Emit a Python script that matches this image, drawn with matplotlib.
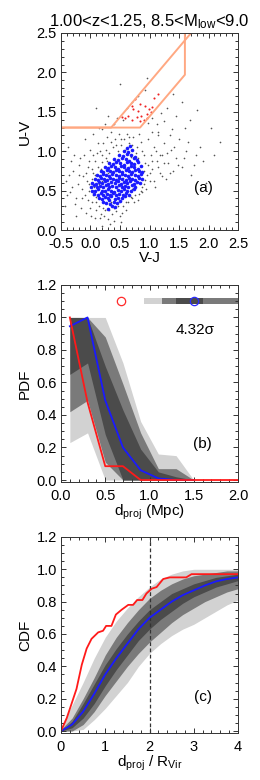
import numpy as np
import matplotlib
matplotlib.use('Agg')
import matplotlib.pyplot as plt
from matplotlib.ticker import MultipleLocator, FormatStrFormatter

plt.rcParams['font.family'] = ['Liberation Sans', 'DejaVu Sans']
plt.rcParams['mathtext.fontset'] = 'custom'
plt.rcParams['mathtext.rm'] = 'Liberation Sans'
plt.rcParams['mathtext.it'] = 'Liberation Sans:italic'
plt.rcParams['axes.unicode_minus'] = False

# ---- panel (a): UVJ diagram ----
gray_pts = [(-0.42,0.62),(-0.35,0.48),(-0.30,0.75),(-0.27,0.33),(-0.22,0.58),(-0.18,0.92),(-0.15,0.41),
            (-0.12,0.68),(-0.08,0.22),(-0.05,0.80),(-0.02,0.50),(0.00,1.02),(0.02,0.35),(0.05,0.72),
            (0.07,0.15),(0.08,0.88),(-0.38,1.05),(-0.25,0.18),(-0.10,1.15),(-0.44,0.30),(-0.20,0.70),
            (-0.06,0.62),(-0.14,0.52),(0.04,0.95),(-0.33,0.88),(-0.01,0.28),(0.10,0.42),(0.12,0.80),
            (0.14,0.30),(0.16,1.00),
            (0.18,0.20),(0.20,0.86),(0.22,1.10),(0.25,0.25),(0.26,0.92),(0.28,1.18),(0.30,0.14),
            (0.32,0.98),(0.34,1.25),(0.36,0.20),(0.38,1.05),(0.40,0.12),(0.42,1.15),(0.44,0.24),
            (0.46,1.00),(0.48,1.22),(0.50,0.18),(0.52,1.08),(0.55,0.30),(0.57,1.15),(0.60,0.26),
            (0.62,1.22),(0.64,0.35),(0.66,1.10),(0.70,0.40),(0.72,1.18),(0.75,0.45),(0.78,1.05),
            (0.80,0.38),(0.83,1.22),(0.85,0.50),(0.88,1.00),(0.90,0.58),(0.92,0.85),(0.95,0.70),
            (0.98,1.15),(1.00,0.62),(1.02,0.95),(1.05,0.78),(1.08,1.05),(1.10,0.55),(1.12,0.88),
            (1.15,1.20),(1.18,0.72),(1.22,0.95),(1.25,1.10),(1.28,0.65),(1.32,0.85),(1.36,1.02),
            (1.40,0.75),(1.45,0.92),(1.50,1.15),(1.55,0.80),(1.62,1.00),(1.70,0.70),(1.78,0.95),
            (1.85,1.05),(2.05,1.30),(2.20,1.12),(1.95,0.60),
            (0.05,1.22),(0.20,1.28),(0.40,1.34),(0.55,1.40),(0.62,1.55),(0.70,1.63),(0.80,1.70),
            (0.92,1.78),(0.98,1.36),(1.05,1.42),(1.12,1.35),(1.20,1.48),(1.25,1.38),(1.30,1.55),
            (1.38,1.28),(1.45,1.45),(1.55,1.62),(1.68,1.40),(1.80,1.52),(0.50,1.85),(0.95,1.93),
            (1.40,1.72),(0.30,1.45),(0.10,1.55),
            (0.15,0.58),(0.30,0.72),(0.45,0.55),(0.60,0.78),(0.25,0.48),(0.55,0.66),(0.70,0.52),
            (0.40,0.90),(0.20,0.62),(0.35,0.36),(0.08,0.70),(0.12,0.52),(0.02,0.65),(0.18,0.78),
            (0.28,0.88),(0.05,0.45),(-0.03,0.58),(0.10,0.36),(0.22,0.28),(0.68,0.93),(0.80,0.92),
            (0.90,0.75),(0.93,0.64),(0.88,0.48),
            (-0.40,0.45),(-0.36,0.70),(-0.31,0.55),(-0.28,0.95),(-0.24,0.40),(-0.19,0.82),(-0.16,0.28),
            (-0.11,0.95),(-0.09,0.45),(-0.07,0.72),(-0.04,0.38),(-0.02,0.88),(0.01,0.18),(0.03,0.78),
            (0.06,0.55),(0.09,0.25),(0.11,0.98),(0.13,1.10),(0.16,0.15),(0.19,0.95),(0.23,0.18),
            (0.27,1.02),(0.31,0.25),(0.35,1.12),(0.39,0.28),(0.43,1.08),(0.47,0.30),(0.51,1.15),
            (0.54,0.22),(0.58,1.02),(0.61,0.36),(0.65,1.18),(0.68,0.42),(0.71,1.08),(0.74,0.36),
            (0.77,0.98),(0.82,0.46),(0.85,1.12),(0.87,0.55),(0.91,0.95),(0.94,0.52),(0.97,0.82),
            (1.01,0.72),(1.04,0.88),(1.07,0.62),(1.11,1.00),(1.14,0.80),(1.17,0.95),(1.21,0.68),
            (1.24,0.85),(1.30,0.98),(1.34,0.72),(1.42,1.05),(1.48,0.82),(1.58,0.92),(1.65,1.12),
            (1.75,0.82),(1.90,0.88),(2.10,0.95),(0.24,1.35),(0.45,1.42),(0.15,1.30),(1.15,1.25),
            (1.35,1.20),(1.60,1.30),(1.05,1.25),(0.33,0.08),(0.52,0.10),(0.20,0.05)]

blue_pts = [(0.29,0.27),(0.36,0.31),(0.41,0.29),(0.33,0.33),
            (0.21,0.36),(0.27,0.34),(0.39,0.36),(0.45,0.34),(0.50,0.37),(0.31,0.38),
            (0.14,0.41),(0.19,0.39),(0.25,0.42),(0.30,0.40),(0.35,0.43),(0.42,0.39),(0.47,0.41),(0.53,0.40),(0.58,0.43),
            (0.06,0.46),(0.12,0.44),(0.17,0.47),(0.22,0.45),(0.28,0.46),(0.33,0.44),(0.38,0.47),(0.44,0.45),
            (0.49,0.46),(0.55,0.44),(0.60,0.47),(0.65,0.45),
            (0.02,0.50),(0.08,0.49),(0.13,0.52),(0.19,0.50),(0.24,0.49),(0.29,0.52),(0.35,0.50),(0.40,0.48),
            (0.46,0.51),(0.51,0.49),(0.56,0.52),(0.62,0.50),(0.68,0.49),(0.73,0.52),
            (0.01,0.55),(0.06,0.57),(0.11,0.54),(0.16,0.56),(0.22,0.55),(0.27,0.57),(0.32,0.54),(0.37,0.56),
            (0.43,0.55),(0.48,0.57),(0.53,0.54),(0.59,0.56),(0.64,0.55),(0.70,0.57),(0.76,0.54),
            (0.03,0.60),(0.09,0.59),(0.14,0.61),(0.19,0.60),(0.25,0.62),(0.30,0.59),(0.35,0.61),(0.41,0.60),
            (0.46,0.62),(0.51,0.59),(0.57,0.61),(0.62,0.60),(0.67,0.62),(0.73,0.59),(0.79,0.61),(0.84,0.60),
            (0.07,0.65),(0.12,0.64),(0.17,0.66),(0.23,0.65),(0.28,0.63),(0.33,0.66),(0.38,0.65),(0.44,0.64),
            (0.49,0.66),(0.54,0.65),(0.60,0.63),(0.65,0.66),(0.71,0.65),(0.76,0.64),(0.82,0.66),(0.87,0.65),
            (0.11,0.70),(0.16,0.69),(0.22,0.71),(0.27,0.70),(0.32,0.68),(0.37,0.71),(0.43,0.70),(0.48,0.69),
            (0.53,0.71),(0.58,0.70),(0.64,0.68),(0.69,0.71),(0.75,0.70),(0.80,0.69),(0.86,0.71),
            (0.17,0.75),(0.22,0.74),(0.28,0.76),(0.33,0.75),(0.38,0.73),(0.44,0.76),(0.49,0.75),(0.54,0.74),
            (0.60,0.76),(0.65,0.75),(0.71,0.73),(0.76,0.76),(0.82,0.75),(0.88,0.74),
            (0.24,0.80),(0.30,0.79),(0.35,0.81),(0.41,0.80),(0.46,0.78),(0.52,0.81),(0.57,0.80),(0.63,0.79),
            (0.68,0.81),(0.74,0.80),(0.80,0.78),(0.86,0.81),
            (0.32,0.85),(0.38,0.84),(0.44,0.86),(0.50,0.85),(0.56,0.83),(0.62,0.86),(0.68,0.85),(0.74,0.84),(0.81,0.86),
            (0.40,0.90),(0.47,0.89),(0.53,0.91),(0.60,0.90),(0.66,0.88),(0.73,0.91),(0.79,0.89),
            (0.48,0.95),(0.55,0.94),(0.62,0.96),(0.69,0.95),(0.75,0.93),
            (0.56,1.00),(0.63,0.99),(0.70,1.01),(0.62,1.04),(0.67,1.06)]

red_pts = [(0.75,1.66),(0.84,1.60),(0.93,1.57),(0.99,1.53),(1.05,1.56),(1.15,1.72),(1.07,1.67),
           (0.58,1.42),(0.64,1.45),(0.78,1.44),(0.86,1.45),(0.95,1.47),(1.02,1.50),(0.70,1.39),
           (0.90,1.39),(0.84,1.38),(0.53,1.44),(0.72,1.53),(0.96,1.42),(0.81,1.51),(0.70,1.58)]

# quiescent selection wedges
wedge_in_x = [-0.5, 0.84, 1.6, 1.6]
wedge_in_y = [1.3, 1.3, 1.97, 2.6]
wedge_out_x = [-0.5, 0.35, 1.75]
wedge_out_y = [1.3, 1.3, 2.54]

# ---- panel (b): PDF ----
pdf_x = [0.1, 0.3, 0.5, 0.7, 0.9, 1.1, 1.3, 1.5, 1.7, 1.9, 2.0]
pdf_red = [1.0, 0.478, 0.085, 0.085, 0.0, 0.0, 0.0, 0.0, 0.0, 0.0, 0.0]
pdf_blue_x = [0.1, 0.3, 0.5, 0.7, 0.9, 1.1, 1.3, 1.5]
pdf_blue = [0.946, 1.0, 0.49, 0.20, 0.06, 0.01, 0.0, 0.0]
pdf_band_x = [0.1, 0.3, 0.5, 0.7, 0.9, 1.1, 1.3, 1.5]
pdf_lo3 = [0.23, 0.29, 0.0, 0.0, 0.0, 0.0, 0.0, 0.0]
pdf_hi3 = [1.0, 1.0, 1.0, 0.72, 0.36, 0.16, 0.15, 0.0]
pdf_lo2 = [0.42, 0.49, 0.11, 0.0, 0.0, 0.0, 0.0, 0.0]
pdf_hi2 = [1.0, 1.0, 0.88, 0.59, 0.29, 0.07, 0.07, 0.0]
pdf_lo1 = [0.65, 0.72, 0.28, 0.0, 0.0, 0.0, 0.0, 0.0]
pdf_hi1 = [1.0, 1.0, 0.70, 0.43, 0.19, 0.05, 0.02, 0.0]
bar_edges = [0.94, 1.14, 1.30, 1.61, 2.05]
sig_red_x = 0.68
sig_blue_x = 1.5
sig_text = '4.32σ'

# ---- panel (c): CDF ----
cdf_red_x = [0, 0.13, 0.24, 0.35, 0.47, 0.58, 0.69, 0.84, 0.95, 1.02, 1.14, 1.24, 1.37, 1.52,
             1.63, 1.72, 1.84, 1.93, 2.05, 2.16, 2.31, 2.46, 2.83, 2.95, 4.0]
cdf_red = [0, 0.08, 0.17, 0.26, 0.41, 0.51, 0.57, 0.61, 0.62, 0.65, 0.65, 0.72, 0.75, 0.78,
           0.78, 0.81, 0.81, 0.85, 0.88, 0.89, 0.94, 0.95, 0.95, 0.97, 0.97]
cdf_x = [0, 0.25, 0.5, 0.75, 1.0, 1.25, 1.5, 1.75, 2.0, 2.25, 2.5, 2.75, 3.0, 3.25, 3.5, 3.75, 4.0]
cdf_blue = [0, 0.04, 0.12, 0.23, 0.35, 0.45, 0.54, 0.63, 0.70, 0.75, 0.80, 0.84, 0.87, 0.90, 0.925, 0.94, 0.95]
cdf_hi3 = [0.03, 0.16, 0.30, 0.45, 0.58, 0.68, 0.76, 0.83, 0.89, 0.94, 0.97, 0.99, 1.0, 1.0, 1.0, 1.0, 1.0]
cdf_lo3 = [0, 0, 0.01, 0.07, 0.14, 0.22, 0.30, 0.40, 0.48, 0.54, 0.59, 0.63, 0.66, 0.70, 0.74, 0.78, 0.81]
cdf_hi2 = [0.01, 0.08, 0.20, 0.33, 0.47, 0.58, 0.67, 0.75, 0.82, 0.87, 0.91, 0.94, 0.96, 0.97, 0.98, 0.99, 0.99]
cdf_lo2 = [0, 0, 0.04, 0.12, 0.22, 0.31, 0.40, 0.48, 0.55, 0.61, 0.67, 0.72, 0.76, 0.80, 0.83, 0.86, 0.88]
cdf_hi1 = [0, 0.06, 0.17, 0.29, 0.41, 0.51, 0.60, 0.68, 0.75, 0.80, 0.85, 0.88, 0.91, 0.93, 0.95, 0.96, 0.97]
cdf_lo1 = [0, 0.02, 0.08, 0.17, 0.28, 0.38, 0.47, 0.56, 0.63, 0.69, 0.74, 0.79, 0.83, 0.86, 0.89, 0.91, 0.93]

light = '#d2d2d2'
mid = '#7a7a7a'
dark = '#4b4b4b'
salmon = '#ffa882'


def idl_axes(ax, xmaj, xmin, ymaj, ymin, xfmt, yfmt):
    ax.xaxis.set_major_locator(MultipleLocator(xmaj))
    ax.xaxis.set_minor_locator(MultipleLocator(xmin))
    ax.yaxis.set_major_locator(MultipleLocator(ymaj))
    ax.yaxis.set_minor_locator(MultipleLocator(ymin))
    ax.xaxis.set_major_formatter(FormatStrFormatter(xfmt))
    ax.yaxis.set_major_formatter(FormatStrFormatter(yfmt))
    ax.tick_params(which='both', direction='in', top=True, right=True,
                   labelsize=10.5, width=0.7, color='#333333')
    ax.tick_params(which='major', length=3.8)
    ax.tick_params(which='minor', length=1.9)
    ax.tick_params(axis='x', pad=5)
    ax.tick_params(axis='y', pad=3)
    for s in ax.spines.values():
        s.set_linewidth(0.7)
        s.set_color('#333333')


fig = plt.figure(figsize=(2.6, 7.8), dpi=100)

# panel a
ax1 = fig.add_axes([0.2346, 0.7051, 0.6808, 0.2526])
g = np.array(gray_pts)
b = np.array(blue_pts)
r = np.array(red_pts)
ax1.plot(g[:, 0], g[:, 1], 'o', color='#555555', ms=1.2, mew=0)
ax1.plot(b[:, 0], b[:, 1], 'o', color='#1a1aff', ms=2.6, mew=0)
ax1.plot(r[:, 0], r[:, 1], 'o', color='#ee2222', ms=1.5, mew=0)
ax1.plot(wedge_in_x, wedge_in_y, color=salmon, lw=1.4)
ax1.plot(wedge_out_x, wedge_out_y, color=salmon, lw=1.4)
ax1.set_xlim(-0.5, 2.5)
ax1.set_ylim(0, 2.5)
idl_axes(ax1, 0.5, 0.1, 0.5, 0.1, '%.1f', '%.1f')
ax1.set_xlabel('V-J', fontsize=11, labelpad=0)
ax1.set_ylabel('U-V', fontsize=11, labelpad=3)
ax1.set_title(r'1.00<z<1.25, 8.5<M$_{\mathrm{low}}$<9.0', fontsize=12, pad=5)
ax1.text(1.91, 0.53, '(a)', fontsize=11, ha='center', va='center')

# panel b
ax2 = fig.add_axes([0.2346, 0.3821, 0.6808, 0.2526])
ax2.fill_between(pdf_band_x, pdf_lo3, pdf_hi3, color=light, lw=0)
ax2.fill_between(pdf_band_x, pdf_lo2, pdf_hi2, color=mid, lw=0)
ax2.fill_between(pdf_band_x, pdf_lo1, pdf_hi1, color=dark, lw=0)
bar_cols = [light, mid, dark, mid]
for i in range(len(bar_cols)):
    ax2.broken_barh([(bar_edges[i], bar_edges[i + 1] - bar_edges[i])], (1.083, 0.034),
                    color=bar_cols[i], lw=0)
ax2.plot(pdf_blue_x, pdf_blue, color='#1a1aff', lw=1.3)
ax2.plot(pdf_x, pdf_red, color='#ff1a1a', lw=1.3)
ax2.plot([sig_red_x], [1.1], 'o', mfc='none', mec='#ff2a2a', ms=6, mew=0.9)
ax2.plot([sig_blue_x], [1.1], 'o', mfc='none', mec='#2a2aff', ms=6, mew=0.9)
ax2.text(1.52, 0.925, sig_text, fontsize=11, ha='center', va='center')
ax2.text(1.6, 0.22, '(b)', fontsize=11, ha='center', va='center')
ax2.set_xlim(0, 2.0)
ax2.set_ylim(-0.012, 1.2)
idl_axes(ax2, 0.5, 0.1, 0.2, 0.05, '%.1f', '%.1f')
ax2.set_xlabel(r'd$_{\mathrm{proj}}$ (Mpc)', fontsize=11, labelpad=0)
ax2.set_ylabel('PDF', fontsize=11, labelpad=3)

# panel c
ax3 = fig.add_axes([0.2346, 0.0603, 0.6808, 0.2513])
ax3.fill_between(cdf_x, cdf_lo3, cdf_hi3, color=light, lw=0)
ax3.fill_between(cdf_x, cdf_lo2, cdf_hi2, color=mid, lw=0)
ax3.fill_between(cdf_x, cdf_lo1, cdf_hi1, color=dark, lw=0)
ax3.axvline(2.0, color='#333333', lw=0.9, ls=(0, (3, 2)))
ax3.plot(cdf_x, cdf_blue, color='#1a1aff', lw=1.3)
ax3.plot(cdf_red_x, cdf_red, color='#ff1a1a', lw=1.3)
ax3.text(3.21, 0.21, '(c)', fontsize=11, ha='center', va='center')
ax3.set_xlim(0, 4)
ax3.set_ylim(-0.012, 1.2)
idl_axes(ax3, 1, 0.2, 0.2, 0.05, '%d', '%.1f')
ax3.set_xlabel(r'd$_{\mathrm{proj}}$ / R$_{\mathrm{Vir}}$', fontsize=11, labelpad=0)
ax3.set_ylabel('CDF', fontsize=11, labelpad=3)

fig.savefig('out.png', dpi=100)
